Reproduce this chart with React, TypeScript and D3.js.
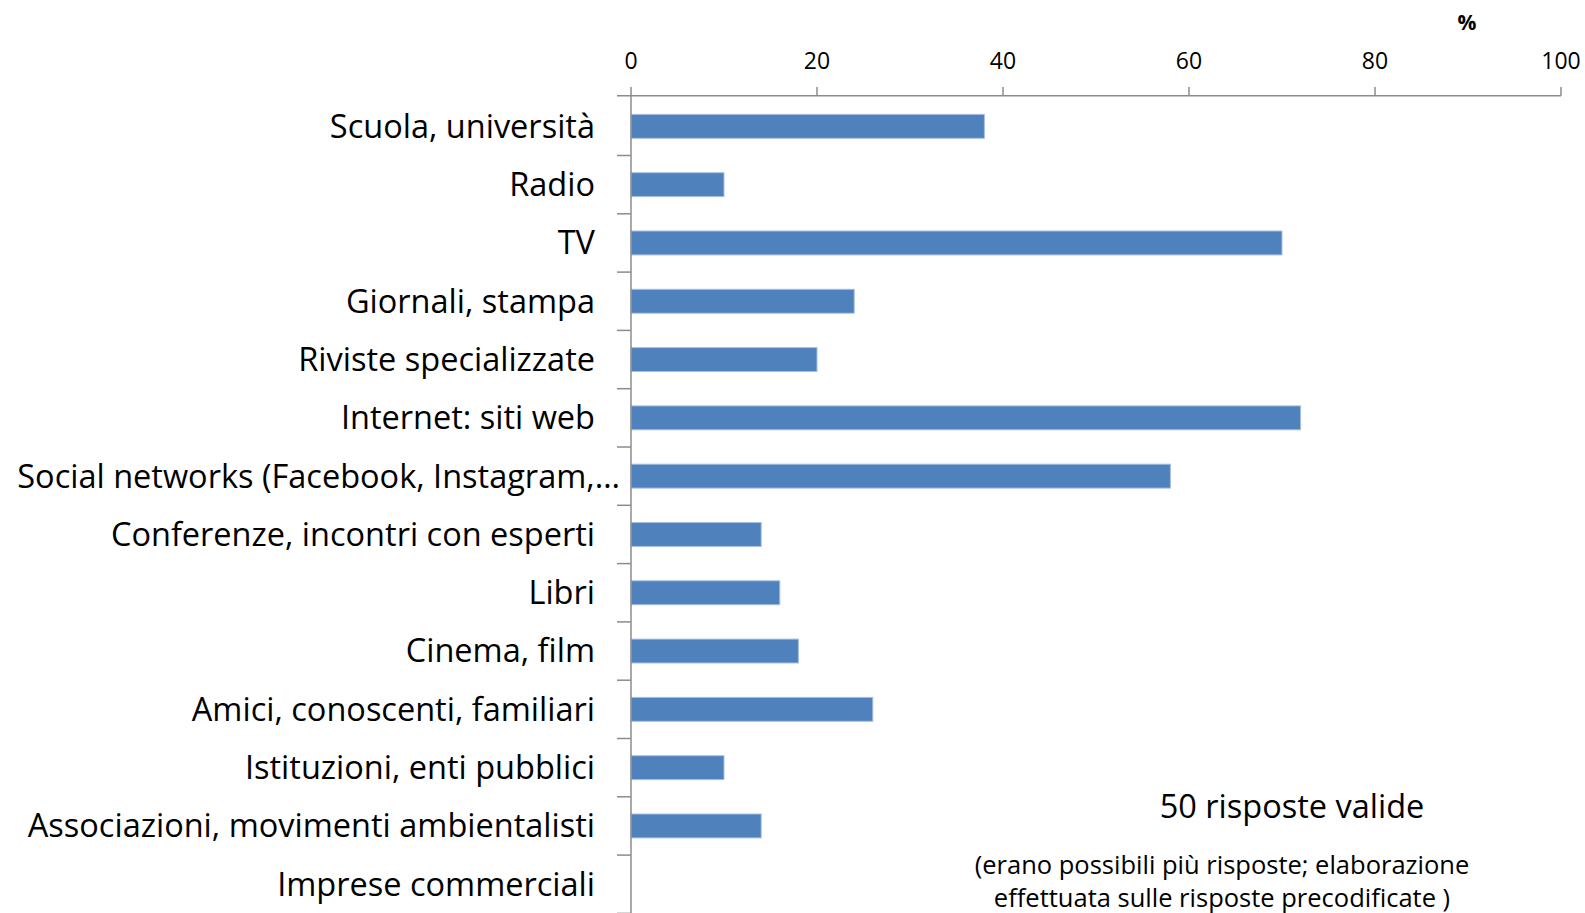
import React, { useEffect, useRef } from "react";
import * as d3 from "d3";

const categories = [
  "Scuola, università",
  "Radio",
  "TV",
  "Giornali, stampa",
  "Riviste specializzate",
  "Internet: siti web",
  "Social networks (Facebook, Instagram,…",
  "Conferenze, incontri con esperti",
  "Libri",
  "Cinema, film",
  "Amici, conoscenti, familiari",
  "Istituzioni, enti pubblici",
  "Associazioni, movimenti ambientalisti",
  "Imprese commerciali",
];
const values = [38, 10, 70, 24, 20, 72, 58, 14, 16, 18, 26, 10, 14, 0];
const xTicks = [0, 20, 40, 60, 80, 100];

const W = 1585;
const H = 913;
const FONT = "Open Sans, Calibri, sans-serif";

export default function App() {
  const ref = useRef<SVGSVGElement>(null);
  useEffect(() => {
    const svg = d3.select(ref.current);
    svg.selectAll("*").remove();
    const axisY = 95.7;
    const top = 97.2;
    const x = d3.scaleLinear().domain([0, 100]).range([631, 1561]);
    const y = d3.scaleBand<string>().domain(categories).range([top, top + 58.3 * 14]).paddingInner(0.59).paddingOuter(0.295);
    const step = y.step();
    const axisColor = "#8c8c8c";

    svg.append("g").selectAll("rect").data(values).join("rect")
      .attr("x", x(0))
      .attr("y", (_, i) => y(categories[i])!)
      .attr("width", (d) => x(d) - x(0))
      .attr("height", y.bandwidth())
      .attr("fill", (d) => (d > 0 ? "#4F81BD" : "none"))
      .attr("stroke", (d) => (d > 0 ? "#a7bfe0" : "none"))
      .attr("stroke-width", 1);

    const g = svg.append("g");
    g.append("line").attr("x1", 617).attr("x2", x(100)).attr("y1", axisY).attr("y2", axisY)
      .attr("stroke", axisColor).attr("stroke-width", 1.5);
    g.selectAll("line.xt").data(xTicks).join("line").attr("class", "xt")
      .attr("x1", (d) => x(d)).attr("x2", (d) => x(d)).attr("y1", 87).attr("y2", axisY)
      .attr("stroke", axisColor).attr("stroke-width", 1.5);
    g.selectAll("text.xl").data(xTicks).join("text").attr("class", "xl")
      .attr("x", (d) => x(d)).attr("y", 69)
      .attr("text-anchor", "middle")
      .attr("font-family", FONT).attr("font-size", 23).attr("fill", "#000")
      .text((d) => String(d));
    g.append("text").attr("x", 1467).attr("y", 30).attr("text-anchor", "middle")
      .attr("font-family", FONT).attr("font-size", 21).attr("font-weight", "bold").text("%");

    g.append("line").attr("x1", x(0)).attr("x2", x(0)).attr("y1", axisY).attr("y2", H)
      .attr("stroke", axisColor).attr("stroke-width", 1.5);
    const bounds = categories.map((_, i) => top + step * (i + 1));
    g.selectAll("line.yt").data(bounds).join("line").attr("class", "yt")
      .attr("x1", 617).attr("x2", x(0)).attr("y1", (d) => d).attr("y2", (d) => d)
      .attr("stroke", axisColor).attr("stroke-width", 1.5);
    g.selectAll("text.yl").data(categories).join("text").attr("class", "yl")
      .attr("x", (d) => (d.startsWith("Social") ? 620 : 595))
      .attr("y", (d) => y(d)! + y.bandwidth() / 2)
      .attr("dy", "0.35em")
      .attr("text-anchor", "end")
      .attr("font-family", FONT).attr("font-size", 32.5).attr("fill", "#000")
      .text((d) => d);

    svg.append("text").attr("x", 1292).attr("y", 818).attr("text-anchor", "middle")
      .attr("font-family", FONT).attr("font-size", 32.5).text("50 risposte valide");
    svg.append("text").attr("x", 1222).attr("y", 874).attr("text-anchor", "middle")
      .attr("font-family", FONT).attr("font-size", 25.5).text("(erano possibili più risposte; elaborazione");
    svg.append("text").attr("x", 1222).attr("y", 907).attr("text-anchor", "middle")
      .attr("font-family", FONT).attr("font-size", 25.5).text("effettuata sulle risposte precodificate )");
  }, []);
  return (
    <svg ref={ref} width={W} height={H} style={{ position: "absolute", left: 0, top: 0, background: "#fff" }} />
  );
}
